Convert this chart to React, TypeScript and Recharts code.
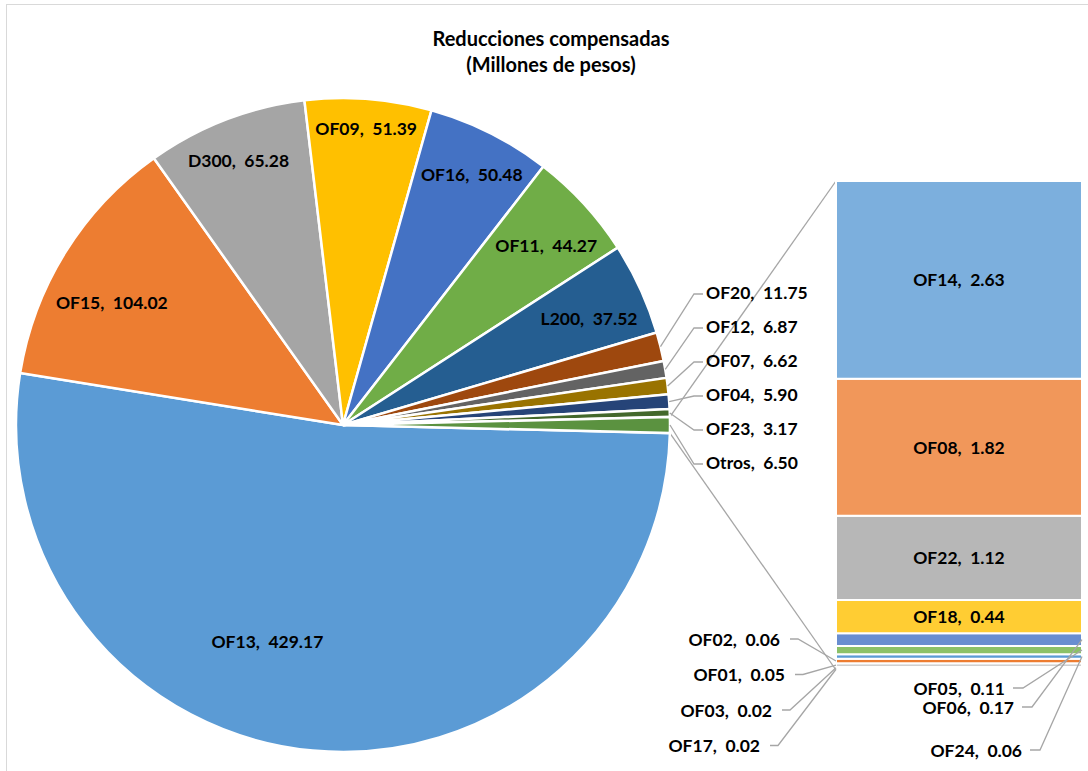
import { Bar, BarChart, Cell, LabelList, Pie, PieChart, XAxis, YAxis } from 'recharts';

// pie slices (clockwise, starting at the bottom-right after "Otros")
const pieNames = ['OF13', 'OF15', 'D300', 'OF09', 'OF16', 'OF11', 'L200', 'OF20', 'OF12', 'OF07', 'OF04', 'OF23', 'Otros'];
const pieValues = [429.17, 104.02, 65.28, 51.39, 50.48, 44.27, 37.52, 11.75, 6.87, 6.62, 5.9, 3.17, 6.5];
const pieColors = ['#5B9BD5', '#ED7D31', '#A5A5A5', '#FFC000', '#4472C4', '#70AD47', '#255E91', '#9E480E', '#636363', '#997300', '#264478', '#43682B', '#5B9240'];

// the "Otros" breakdown, top of the bar first
const barNames = ['OF14', 'OF08', 'OF22', 'OF18', 'OF06', 'OF05', 'OF24', 'OF02', 'OF01', 'OF03', 'OF17'];
const barValues = [2.63, 1.82, 1.12, 0.44, 0.17, 0.11, 0.06, 0.06, 0.05, 0.02, 0.02];
const barColors = ['#7CAFDD', '#F1975A', '#B7B7B7', '#FFCD33', '#698ED0', '#8CC168', '#5B9BD5', '#ED7D31', '#D0D0D0', '#FFE08A', '#AFC2E6'];

const W = 1088;
const H = 771;
const CX = 343;
const CY = 425;
const R = 327;
const BAR_X = 836;
const BAR_W = 246;
const BAR_TOP = 181;
const BAR_H = 489;
const BAR_BOTTOM = BAR_TOP + BAR_H;
const FONT = 'Lato, "Open Sans", sans-serif';
const LINE = '#A6A6A6';

const labelStyle = { fontFamily: FONT, fontWeight: 700, fontSize: 17.5, fill: '#000' };
const titleStyle = { fontFamily: FONT, fontWeight: 700, fontSize: 20, fill: '#000' };

// inside-label placement per slice: angle nudge (deg) and radius fraction
const labelPlace: Record<string, { da: number; f: number }> = {
  OF13: { da: -14, f: 0.7 },
  OF15: { da: 4, f: 0.8 },
  D300: { da: 0.5, f: 0.87 },
  OF09: { da: 0, f: 0.91 },
  OF16: { da: -0.5, f: 0.86 },
  OF11: { da: -1, f: 0.83 },
  L200: { da: -1.2, f: 0.82 },
};

const pieTotal = pieValues.reduce((a, b) => a + b, 0);
const otrosTotal = barValues.reduce((a, b) => a + b, 0);
const halfOtros = (pieValues[pieValues.length - 1] / pieTotal) * 180;
const START = -halfOtros;

const pieData = pieNames.map((name, i) => ({ name, value: pieValues[i] }));
const barRow: Record<string, number | string> = { cat: 'Otros' };
barNames.forEach((n, i) => {
  barRow[n] = barValues[i];
});
const barData = [barRow];

const fmt = (name: string, v: number) => `${name},\u00A0 ${v.toFixed(2)}`;

// outside pie labels: stacked column right of the pie
const smallPie = pieNames.map((_, i) => i).filter((i) => pieValues[i] < 20);
const OUT_GAP = 34;
const OUT_LAST_DY = 37;
const OUT_DX = 36;

// small bar segments labelled outside the bar
const leftSmall = ['OF02', 'OF01', 'OF03', 'OF17'];
const leftDx = [-56, -51, -64, -76];
const rightSmall = ['OF05', 'OF06', 'OF24'];
const rightDx = [-77, -68, -60];
const rightDy = [18, 37, 80];

const rad = Math.PI / 180;

function PieLabel(p: any) {
  const name: string = p.name ?? p.payload?.name;
  const i = pieNames.indexOf(name);
  const v = pieValues[i];
  const cx = Number(p.cx);
  const cy = Number(p.cy);
  const r = Number(p.outerRadius);
  const mid = Number(p.midAngle);
  const text = fmt(name, v);
  if (v >= 20) {
    const place = labelPlace[name] ?? { da: 0, f: 0.85 };
    const a = mid + place.da;
    const x = cx + r * place.f * Math.cos(-a * rad);
    const y = cy + r * place.f * Math.sin(-a * rad);
    return (
      <text x={x} y={y} textAnchor="middle" dominantBaseline="central" style={labelStyle}>
        {text}
      </text>
    );
  }
  const k = smallPie.indexOf(i);
  const ty = cy + OUT_LAST_DY - (smallPie.length - 1 - k) * OUT_GAP;
  const tx = cx + r + OUT_DX;
  const sx = cx + r * Math.cos(-mid * rad);
  const sy = cy + r * Math.sin(-mid * rad);
  return (
    <g>
      <polyline
        points={`${sx},${sy} ${tx - 12},${ty + 2} ${tx - 3},${ty + 2}`}
        stroke={LINE}
        strokeWidth={1.3}
        fill="none"
      />
      <text x={tx} y={ty} dominantBaseline="central" style={labelStyle}>
        {text}
      </text>
    </g>
  );
}

function barLabel(name: string, v: number) {
  return (p: any) => {
    const x = Number(p.x);
    const y = Number(p.y);
    const w = Number(p.width);
    const h = Number(p.height);
    const midY = y + h / 2;
    const text = fmt(name, v);
    const li = leftSmall.indexOf(name);
    const ri = rightSmall.indexOf(name);
    if (li >= 0) {
      const ty = BAR_BOTTOM - 31 + li * 35.5;
      const te = BAR_X + leftDx[li];
      return (
        <g>
          <polyline
            points={`${te + 10},${ty} ${te + 18},${ty} ${x},${midY}`}
            stroke={LINE}
            strokeWidth={1.3}
            fill="none"
          />
          <text x={te} y={ty} textAnchor="end" dominantBaseline="central" style={labelStyle}>
            {text}
          </text>
        </g>
      );
    }
    if (ri >= 0) {
      const ty = BAR_BOTTOM + rightDy[ri];
      const te = BAR_X + BAR_W + rightDx[ri];
      return (
        <g>
          <polyline
            points={`${te + 8},${ty} ${te + 18},${ty} ${x + w},${midY}`}
            stroke={LINE}
            strokeWidth={1.3}
            fill="none"
          />
          <text x={te} y={ty} textAnchor="end" dominantBaseline="central" style={labelStyle}>
            {text}
          </text>
        </g>
      );
    }
    return (
      <text x={x + w / 2} y={midY} textAnchor="middle" dominantBaseline="central" style={labelStyle}>
        {text}
      </text>
    );
  };
}

export default function App() {
  const upper = { x: CX + R * Math.cos(halfOtros * rad), y: CY - R * Math.sin(halfOtros * rad) };
  const lower = { x: CX + R * Math.cos(halfOtros * rad), y: CY + R * Math.sin(halfOtros * rad) };
  const stackOrder = barNames.map((_, i) => i).reverse();

  return (
    <div
      style={{
        position: 'absolute',
        left: 0,
        top: 0,
        width: W,
        height: H,
        overflow: 'hidden',
        background: '#fff',
      }}
    >
      <div
        style={{
          position: 'absolute',
          left: 6,
          top: 4,
          width: W + 20,
          height: H + 20,
          border: '1.5px solid #D9D9D9',
        }}
      />
      <svg width={W} height={H} style={{ position: 'absolute', left: 0, top: 0 }}>
        <line x1={upper.x} y1={upper.y} x2={BAR_X} y2={BAR_TOP} stroke={LINE} strokeWidth={1.3} />
        <line x1={lower.x} y1={lower.y} x2={BAR_X} y2={BAR_BOTTOM} stroke={LINE} strokeWidth={1.3} />
        <text x={551} y={38} textAnchor="middle" dominantBaseline="central" style={titleStyle}>
          Reducciones compensadas
        </text>
        <text x={551} y={64} textAnchor="middle" dominantBaseline="central" style={titleStyle}>
          (Millones de pesos)
        </text>
      </svg>
      <div style={{ position: 'absolute', left: 0, top: 0 }}>
        <PieChart width={W} height={H} margin={{ top: 0, right: 0, bottom: 0, left: 0 }}>
          <Pie
            data={pieData}
            dataKey="value"
            nameKey="name"
            cx={CX}
            cy={CY}
            outerRadius={R}
            startAngle={START}
            endAngle={START - 360}
            stroke="#fff"
            strokeWidth={2.5}
            label={PieLabel}
            labelLine={false}
            isAnimationActive={false}
          >
            {pieData.map((d, i) => (
              <Cell key={d.name} fill={pieColors[i]} />
            ))}
          </Pie>
        </PieChart>
      </div>
      <div style={{ position: 'absolute', left: 0, top: 0 }}>
        <BarChart
          width={W}
          height={H}
          data={barData}
          barCategoryGap={0}
          margin={{ top: BAR_TOP, left: BAR_X, right: W - BAR_X - BAR_W, bottom: H - BAR_BOTTOM }}
        >
          <XAxis dataKey="cat" hide />
          <YAxis hide domain={[0, otrosTotal]} />
          {stackOrder.map((i) => (
            <Bar
              key={barNames[i]}
              dataKey={barNames[i]}
              stackId="otros"
              fill={barColors[i]}
              stroke="#fff"
              strokeWidth={2}
              isAnimationActive={false}
            >
              <LabelList dataKey={barNames[i]} content={barLabel(barNames[i], barValues[i])} />
            </Bar>
          ))}
        </BarChart>
      </div>
    </div>
  );
}
